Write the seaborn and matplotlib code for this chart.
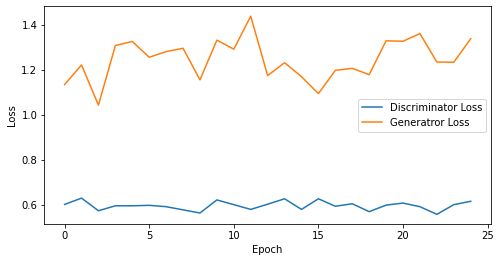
import matplotlib
matplotlib.use("Agg")
import matplotlib.pyplot as plt
import seaborn as sns
import pandas as pd

epochs = list(range(25))
disc_loss = [0.604, 0.632, 0.576, 0.598, 0.598, 0.600, 0.594, 0.580, 0.566, 0.624,
             0.603, 0.582, 0.605, 0.629, 0.582, 0.629, 0.596, 0.607, 0.572, 0.601,
             0.610, 0.594, 0.560, 0.603, 0.618]
gen_loss = [1.135, 1.222, 1.044, 1.308, 1.326, 1.256, 1.281, 1.296, 1.156, 1.332,
            1.292, 1.438, 1.175, 1.232, 1.170, 1.095, 1.198, 1.207, 1.179, 1.329,
            1.327, 1.361, 1.235, 1.234, 1.338]
labels = ["Discriminator Loss", "Generatror Loss"]

df = pd.DataFrame({
    "Epoch": epochs * 2,
    "Loss": disc_loss + gen_loss,
    "Series": [labels[0]] * len(epochs) + [labels[1]] * len(epochs),
})

fig = plt.figure(figsize=(500 / 72, 262 / 72), dpi=72)
ax = fig.add_axes([0.0886, 0.144, 0.982 - 0.0886, 0.976 - 0.144])
sns.lineplot(data=df, x="Epoch", y="Loss", hue="Series",
             palette=["#1f77b4", "#ff7f0e"], ax=ax, linewidth=1.5)
ax.set_xlabel("Epoch")
ax.set_ylabel("Loss")
ax.set_xticks([0, 5, 10, 15, 20, 25])
ax.set_yticks([0.6, 0.8, 1.0, 1.2, 1.4])
ax.legend(loc="center right", title=None)
fig.savefig("out.png", dpi=72)
